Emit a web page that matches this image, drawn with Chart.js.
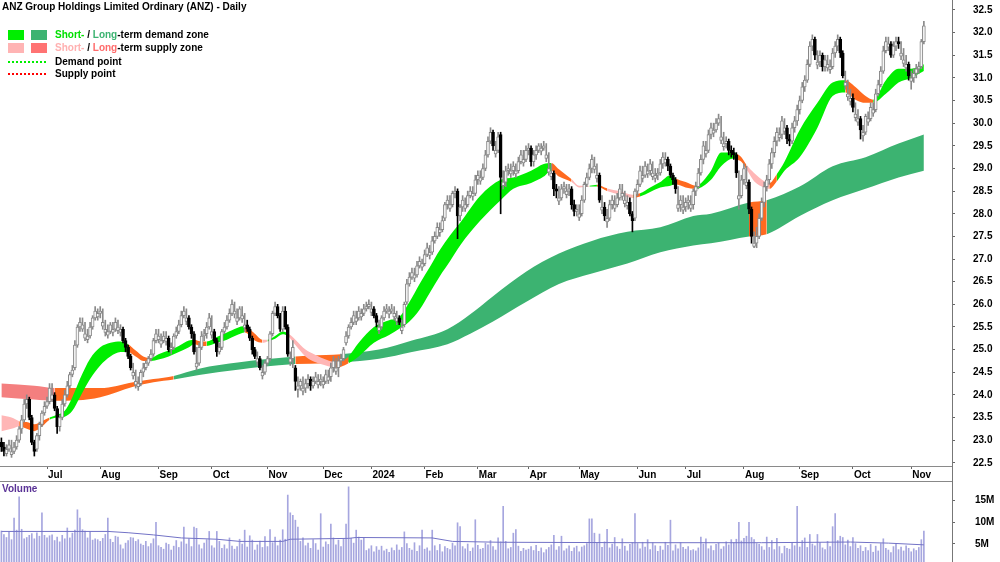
<!DOCTYPE html>
<html>
<head>
<meta charset="utf-8">
<script src="https://cdn.jsdelivr.net/npm/chart.js@4.4.1/dist/chart.umd.min.js"></script>
<style>
  html, body { margin: 0; padding: 0; background: #fff; }
  body { width: 1000px; height: 562px; position: relative; overflow: hidden; font-family: "Liberation Sans", Arial, sans-serif; }
  #price { position: absolute; left: 0; top: 0; }
  #vol { position: absolute; left: 0; top: 481px; }
  .hline { position: absolute; left: 0; top: 481px; width: 952px; height: 1px; background: #888; }
  .vline { position: absolute; left: 952px; top: 0; width: 1px; height: 562px; background: #777; }
  .title { position: absolute; left: 2px; top: 1px; font-size: 10px; font-weight: bold; color: #000; white-space: nowrap; }
  .sw { position: absolute; width: 16px; height: 10px; }
  .lt { position: absolute; left: 55px; font-size: 10px; font-weight: bold; color: #000; white-space: nowrap; line-height: 12px; }
  .dots { position: absolute; left: 8px; width: 38px; height: 0; }
  .vlabel { position: absolute; left: 2px; top: 483px; font-size: 10px; font-weight: bold; color: #5a3296; }
</style>
</head>
<body>
<canvas id="price" width="1000" height="481"></canvas>
<canvas id="vol" width="1000" height="81"></canvas>
<div class="hline"></div>
<div class="vline"></div>

<div class="title">ANZ Group Holdings Limited Ordinary (ANZ) - Daily</div>
<div class="sw" style="left:8px;top:30px;background:#00ee00"></div>
<div class="sw" style="left:31px;top:30px;background:#3cb371"></div>
<div class="lt" style="top:29px"><span style="color:#00e000">Short-</span> / <span style="color:#3cb371">Long</span>-term demand zone</div>
<div class="sw" style="left:8px;top:43px;background:#ffb4b4"></div>
<div class="sw" style="left:31px;top:43px;background:#ff7373"></div>
<div class="lt" style="top:42px"><span style="color:#ffb0b0">Short-</span> / <span style="color:#ff6b6b">Long</span>-term supply zone</div>
<div class="dots" style="top:61px;border-top:2px dotted #00ee00"></div>
<div class="lt" style="top:56px">Demand point</div>
<div class="dots" style="top:73px;border-top:2px dotted #ff0000"></div>
<div class="lt" style="top:68px">Supply point</div>
<div class="vlabel">Volume</div>

<script>
// daily candles, Jun 2023 - Nov 2024 (index = trading day)
const opens = [
  22.95,22.85,22.70,22.80,22.68,22.75,22.85,23.00,23.25,23.45,
  23.80,23.90,23.50,22.95,22.80,23.10,23.35,23.60,23.75,23.85,
  23.90,24.00,23.70,23.30,23.50,23.80,24.00,24.20,24.45,24.60,
  25.10,25.50,25.45,25.25,25.22,25.30,25.50,25.70,25.72,25.80,
  25.52,25.38,25.32,25.40,25.38,25.45,25.42,25.38,25.45,25.20,
  25.05,24.85,24.42,24.22,24.18,24.25,24.50,24.60,24.70,24.80,
  24.90,25.20,25.22,25.12,25.20,25.18,25.25,25.00,25.05,25.30,
  25.40,25.55,25.75,25.62,25.70,25.50,25.35,24.62,24.70,25.05,
  25.30,25.35,25.50,25.32,25.40,25.20,24.95,25.05,25.40,25.50,
  25.65,25.80,25.78,25.62,25.70,25.68,25.48,25.55,25.45,25.25,
  25.00,24.72,24.80,24.42,24.50,24.70,24.80,25.35,25.80,25.95,
  25.75,25.45,25.85,25.50,24.72,24.80,24.60,24.12,24.20,24.08,
  24.15,24.25,24.35,24.20,24.30,24.22,24.30,24.22,24.30,24.32,
  24.40,24.60,24.52,24.60,24.75,24.80,25.15,25.30,25.50,25.60,
  25.62,25.70,25.72,25.80,25.90,25.95,25.82,25.90,25.75,25.42,
  25.50,25.70,25.85,25.78,25.85,25.72,25.62,25.70,25.42,25.55,
  26.05,26.45,26.60,26.58,26.65,26.85,26.82,26.90,27.10,27.08,
  27.15,27.40,27.50,27.58,27.65,27.90,28.20,28.12,28.20,28.45,
  28.50,27.95,28.15,28.12,28.20,28.40,28.38,28.45,28.75,28.72,
  28.80,29.00,29.30,29.60,29.80,29.32,29.40,29.75,28.62,28.70,
  28.95,28.88,28.95,28.88,28.95,29.15,29.12,29.20,29.40,29.45,
  29.15,29.30,29.40,29.38,29.45,29.22,28.92,28.82,28.90,28.55,
  28.28,28.35,28.55,28.42,28.50,28.55,28.20,28.05,27.92,28.00,
  28.30,28.65,28.80,29.00,28.98,28.78,28.85,28.08,28.15,27.82,
  27.90,28.20,28.12,28.20,28.35,28.38,28.22,28.18,28.25,28.00,
  27.90,28.50,28.65,28.78,28.85,28.88,28.95,28.82,28.78,28.85,
  28.90,29.10,29.12,29.20,29.05,28.85,28.75,28.12,28.20,28.08,
  28.15,28.25,28.12,28.20,28.50,28.60,28.90,29.20,29.32,29.40,
  29.75,29.78,29.85,30.00,29.62,29.48,29.55,29.60,29.40,29.35,
  29.30,28.32,28.40,28.75,28.62,28.70,28.10,27.28,27.35,27.50,
  27.90,28.25,28.60,28.75,29.10,29.35,29.60,29.68,29.75,29.82,
  29.90,29.65,29.60,29.90,30.05,30.30,30.50,30.80,30.95,31.30,
  31.70,31.85,31.28,31.35,31.50,31.25,31.22,31.18,31.25,31.55,
  31.70,31.85,31.55,30.82,30.58,30.48,30.55,30.12,30.02,30.10,
  29.72,29.80,30.02,30.10,30.22,30.30,30.65,30.85,31.15,31.60,
  31.68,31.75,31.50,31.70,31.80,31.48,31.32,31.22,31.30,30.92,
  31.00,31.10,31.20,31.25,31.80
];
const highs = [
  23.05,22.95,22.90,23.00,23.00,22.95,23.10,23.30,23.55,23.90,
  24.00,23.95,23.55,23.00,23.15,23.40,23.65,23.85,23.95,24.25,
  24.25,24.05,23.75,23.55,23.90,24.10,24.30,24.50,24.65,25.20,
  25.55,25.70,25.70,25.60,25.45,25.60,25.75,25.95,25.90,25.95,
  25.90,25.65,25.55,25.60,25.60,25.70,25.65,25.55,25.50,25.25,
  25.10,24.90,24.70,24.55,24.40,24.55,24.70,24.75,24.85,25.00,
  25.25,25.45,25.45,25.35,25.40,25.40,25.30,25.15,25.35,25.50,
  25.65,25.85,25.95,25.90,25.75,25.55,25.40,25.05,25.15,25.40,
  25.45,25.60,25.80,25.75,25.45,25.25,25.15,25.45,25.60,25.75,
  25.90,26.10,26.05,25.90,25.95,25.95,25.80,25.65,25.50,25.30,
  25.05,24.95,24.85,24.65,24.75,24.85,25.40,25.85,26.05,26.00,
  25.80,25.95,25.95,25.55,24.95,25.20,24.65,24.40,24.35,24.40,
  24.35,24.45,24.40,24.40,24.50,24.45,24.45,24.40,24.55,24.55,
  24.70,24.85,24.80,24.85,24.90,25.05,25.40,25.55,25.70,25.85,
  25.85,25.95,25.90,26.00,26.05,26.10,26.05,25.95,25.80,25.65,
  25.75,25.95,26.00,25.95,26.00,25.95,25.85,25.75,25.65,26.05,
  26.55,26.70,26.80,26.80,26.95,27.05,27.00,27.20,27.35,27.30,
  27.50,27.60,27.80,27.80,27.95,28.25,28.40,28.40,28.50,28.60,
  28.55,28.20,28.40,28.35,28.50,28.60,28.60,28.85,28.95,28.95,
  29.10,29.40,29.70,29.90,29.85,29.60,29.80,29.80,28.95,29.05,
  29.10,29.10,29.15,29.10,29.25,29.40,29.40,29.50,29.55,29.50,
  29.40,29.50,29.55,29.55,29.60,29.55,29.35,29.10,28.95,28.65,
  28.60,28.65,28.70,28.65,28.65,28.60,28.30,28.20,28.20,28.40,
  28.70,28.90,29.10,29.30,29.25,29.10,28.90,28.40,28.25,28.10,
  28.30,28.40,28.40,28.45,28.65,28.65,28.50,28.40,28.35,28.05,
  28.55,28.75,29.05,29.05,29.15,29.10,29.20,29.15,29.00,29.00,
  29.20,29.35,29.35,29.25,29.10,28.90,28.80,28.60,28.40,28.40,
  28.35,28.40,28.40,28.55,28.70,29.00,29.30,29.60,29.60,29.85,
  30.00,30.00,30.10,30.20,30.15,29.80,29.70,29.65,29.50,29.45,
  29.35,28.95,28.85,29.10,29.05,28.75,28.15,27.60,27.70,28.00,
  28.35,28.70,28.85,29.20,29.45,29.70,29.90,29.90,30.15,30.10,
  29.95,29.75,30.00,30.15,30.40,30.60,30.90,31.05,31.40,31.80,
  31.95,31.90,31.60,31.60,31.55,31.50,31.50,31.40,31.65,31.80,
  31.95,31.90,31.60,31.15,30.95,30.75,30.65,30.45,30.30,30.15,
  29.95,30.20,30.25,30.45,30.45,30.75,30.95,31.25,31.70,31.90,
  31.90,31.80,31.80,31.90,31.90,31.80,31.65,31.50,31.35,31.15,
  31.20,31.30,31.35,31.85,32.25
];
const lows = [
  22.75,22.65,22.65,22.75,22.62,22.70,22.80,22.95,23.15,23.40,
  23.70,23.45,22.90,22.65,22.75,23.00,23.30,23.55,23.70,23.80,
  23.85,23.65,23.15,23.20,23.45,23.75,23.95,24.15,24.40,24.55,
  25.05,25.40,25.40,25.20,25.15,25.25,25.45,25.65,25.65,25.70,
  25.45,25.30,25.25,25.35,25.30,25.40,25.35,25.30,25.15,24.95,
  24.80,24.55,24.35,24.15,24.10,24.20,24.40,24.55,24.65,24.75,
  24.85,25.15,25.15,25.05,25.15,25.10,24.95,24.90,25.00,25.25,
  25.35,25.50,25.70,25.55,25.45,25.25,24.90,24.55,24.65,25.00,
  25.20,25.25,25.45,25.25,25.15,24.85,24.90,25.00,25.35,25.45,
  25.60,25.75,25.70,25.55,25.65,25.60,25.40,25.40,25.20,24.90,
  24.80,24.65,24.55,24.35,24.45,24.65,24.75,25.30,25.75,25.70,
  25.40,25.40,25.45,24.85,24.65,24.60,24.10,23.95,24.10,24.00,
  24.05,24.15,24.10,24.15,24.25,24.15,24.20,24.15,24.25,24.25,
  24.30,24.50,24.45,24.40,24.65,24.75,25.10,25.25,25.45,25.55,
  25.55,25.65,25.65,25.75,25.85,25.90,25.75,25.70,25.50,25.35,
  25.45,25.65,25.80,25.70,25.80,25.65,25.55,25.55,25.35,25.50,
  26.00,26.40,26.55,26.50,26.60,26.80,26.75,26.85,27.05,27.00,
  27.10,27.35,27.45,27.50,27.60,27.85,28.10,28.05,28.15,28.35,
  27.45,27.85,28.05,28.05,28.15,28.35,28.30,28.40,28.65,28.65,
  28.75,28.95,29.25,29.55,29.40,29.25,29.35,28.00,28.55,28.60,
  28.85,28.80,28.85,28.80,28.90,29.10,29.05,29.15,29.30,29.05,
  29.05,29.20,29.35,29.30,29.40,29.15,28.85,28.75,28.40,28.35,
  28.20,28.30,28.45,28.35,28.40,28.10,27.95,27.95,27.85,27.95,
  28.25,28.60,28.75,28.90,28.90,28.70,28.25,28.00,27.85,27.70,
  27.85,28.10,28.05,28.15,28.30,28.30,28.15,28.10,27.95,27.60,
  27.85,28.40,28.60,28.70,28.80,28.80,28.85,28.75,28.70,28.75,
  28.85,29.00,29.05,28.95,28.80,28.65,28.45,28.05,28.05,28.00,
  28.05,28.10,28.05,28.10,28.40,28.55,28.85,29.10,29.25,29.35,
  29.65,29.70,29.80,29.95,29.55,29.40,29.45,29.30,29.25,29.20,
  28.80,28.10,28.35,28.65,28.55,28.00,27.35,27.25,27.25,27.45,
  27.85,28.15,28.50,28.65,29.00,29.25,29.50,29.60,29.65,29.75,
  29.55,29.50,29.55,29.80,29.95,30.20,30.45,30.70,30.90,31.25,
  31.60,31.40,31.20,31.25,31.15,31.15,31.15,31.10,31.20,31.45,
  31.60,31.45,31.00,30.75,30.50,30.40,30.25,30.05,29.95,29.65,
  29.60,29.75,29.95,30.05,30.15,30.25,30.60,30.80,31.10,31.55,
  31.60,31.45,31.45,31.60,31.65,31.40,31.25,31.15,30.95,30.75,
  30.90,31.00,31.10,31.20,31.75
];
const closes = [
  22.85,22.75,22.80,22.90,22.75,22.85,23.00,23.25,23.45,23.80,
  23.90,23.50,22.95,22.75,23.10,23.35,23.60,23.75,23.85,24.15,
  24.00,23.70,23.30,23.50,23.80,24.00,24.20,24.45,24.55,25.10,
  25.50,25.60,25.55,25.35,25.30,25.50,25.70,25.85,25.80,25.85,
  25.60,25.45,25.40,25.55,25.45,25.60,25.50,25.45,25.20,25.05,
  24.85,24.60,24.50,24.30,24.25,24.50,24.60,24.70,24.80,24.90,
  25.20,25.35,25.30,25.20,25.30,25.25,25.00,25.05,25.30,25.40,
  25.55,25.75,25.85,25.70,25.50,25.35,24.95,24.70,25.05,25.30,
  25.35,25.50,25.70,25.40,25.20,24.95,25.05,25.40,25.50,25.65,
  25.80,26.00,25.85,25.70,25.90,25.75,25.55,25.45,25.25,25.00,
  24.85,24.80,24.60,24.50,24.70,24.80,25.35,25.80,25.95,25.75,
  25.45,25.85,25.50,24.90,24.80,25.05,24.30,24.20,24.30,24.15,
  24.25,24.35,24.20,24.30,24.40,24.30,24.35,24.30,24.45,24.40,
  24.60,24.75,24.60,24.75,24.80,25.00,25.30,25.50,25.60,25.75,
  25.70,25.85,25.80,25.90,25.95,26.00,25.90,25.75,25.60,25.50,
  25.70,25.85,25.90,25.85,25.90,25.80,25.70,25.60,25.50,26.00,
  26.45,26.60,26.70,26.65,26.85,26.95,26.90,27.10,27.25,27.15,
  27.40,27.50,27.70,27.65,27.85,28.20,28.30,28.20,28.45,28.50,
  27.95,28.15,28.30,28.20,28.40,28.50,28.45,28.75,28.85,28.80,
  29.00,29.30,29.60,29.80,29.50,29.40,29.70,28.80,28.70,28.95,
  29.00,28.95,29.05,28.95,29.15,29.30,29.20,29.40,29.45,29.15,
  29.30,29.40,29.50,29.45,29.50,29.30,29.00,28.90,28.55,28.50,
  28.35,28.55,28.60,28.50,28.55,28.20,28.05,28.10,28.00,28.30,
  28.65,28.80,29.00,29.20,29.05,28.85,28.30,28.15,27.95,27.90,
  28.20,28.30,28.20,28.35,28.55,28.45,28.30,28.25,28.00,27.85,
  28.50,28.65,28.95,28.85,29.05,28.95,29.10,28.90,28.85,28.90,
  29.10,29.25,29.20,29.05,28.85,28.75,28.55,28.20,28.30,28.15,
  28.25,28.30,28.20,28.50,28.60,28.90,29.20,29.50,29.40,29.75,
  29.90,29.85,30.00,30.10,29.70,29.55,29.60,29.40,29.35,29.30,
  28.90,28.40,28.75,29.00,28.70,28.10,27.50,27.35,27.50,27.90,
  28.25,28.60,28.75,29.10,29.35,29.60,29.80,29.75,30.05,29.90,
  29.65,29.60,29.90,30.05,30.30,30.50,30.80,30.95,31.30,31.70,
  31.85,31.50,31.35,31.50,31.25,31.40,31.30,31.25,31.55,31.70,
  31.85,31.55,31.05,30.90,30.65,30.55,30.35,30.20,30.10,29.85,
  29.80,30.15,30.10,30.35,30.30,30.65,30.85,31.15,31.60,31.80,
  31.75,31.50,31.70,31.80,31.75,31.55,31.40,31.30,31.05,31.00,
  31.10,31.20,31.25,31.80,32.15
];
// volume in millions of shares
const volumes = [
  8.0,7.2,6.5,7.8,6.0,11.0,8.2,15.9,8.4,6.2,
  6.5,7.0,7.4,6.2,7.6,6.8,12.2,7.0,6.4,6.9,
  7.1,5.8,6.6,5.5,7.0,6.2,8.7,6.4,7.5,8.2,
  12.9,11.0,8.3,8.0,6.4,7.8,5.9,6.2,6.0,5.6,
  6.3,7.2,11.0,6.1,5.4,6.8,6.6,4.8,3.9,5.2,
  5.8,6.5,6.4,5.6,6.0,5.0,4.7,5.6,4.4,5.1,
  6.2,10.0,4.6,4.2,3.8,5.2,4.9,3.6,4.5,5.8,
  4.2,5.5,8.9,5.0,6.2,4.4,8.9,8.6,4.8,3.9,
  5.2,6.0,7.9,4.6,4.1,7.9,5.6,4.0,4.8,3.9,
  6.4,4.5,3.8,4.4,6.1,5.0,8.2,4.3,6.9,5.9,
  3.6,4.8,5.7,4.2,6.7,4.4,8.3,5.3,6.6,4.6,
  5.9,8.3,6.1,16.3,12.2,11.6,10.5,8.9,5.6,6.4,
  4.6,5.2,4.0,6.0,5.1,3.6,12.0,4.3,5.5,4.9,
  9.6,6.4,4.8,5.9,4.4,6.1,9.6,18.2,6.3,5.2,
  8.2,6.6,5.9,6.5,3.5,3.9,4.6,3.2,4.4,3.6,
  4.5,3.4,3.8,3.1,4.1,3.5,4.8,3.6,4.2,7.8,
  5.1,4.0,3.6,5.3,3.3,4.6,8.2,3.8,4.1,3.4,
  8.2,4.6,3.5,4.9,3.2,4.4,4.0,3.7,5.2,4.6,
  9.9,9.0,4.4,3.9,5.0,3.3,4.1,10.6,4.7,3.8,
  4.0,5.2,4.8,5.8,4.4,3.6,6.4,5.5,13.7,5.6,
  3.9,4.2,7.5,8.3,4.5,3.3,4.0,3.6,3.8,4.4,
  3.5,4.7,3.3,4.1,3.0,3.7,4.2,4.8,7.0,3.6,
  4.4,6.8,3.4,3.9,4.6,3.3,4.1,4.5,3.2,4.3,
  4.6,5.1,10.8,10.8,7.5,5.2,7.3,4.2,5.5,8.4,
  4.1,5.0,6.5,4.4,3.8,6.2,4.5,3.4,4.9,5.3,
  12.0,5.1,3.9,5.4,4.3,6.0,3.7,5.3,4.6,3.3,
  4.5,3.6,5.4,4.7,10.5,3.4,4.8,3.9,5.3,4.2,
  3.8,4.4,3.5,3.7,3.4,4.1,6.6,5.0,6.2,3.9,
  4.6,3.5,4.9,5.2,3.8,4.4,5.5,4.8,6.0,5.3,
  6.1,10.0,5.7,6.3,6.8,10.0,6.5,6.0,5.1,4.9,
  4.4,3.6,6.6,4.2,5.8,3.7,6.3,4.4,2.8,4.5,
  4.0,3.8,5.4,4.6,13.7,4.3,5.8,6.4,4.2,7.2,
  5.0,4.6,7.2,5.3,4.1,3.7,5.6,4.4,9.0,12.0,
  5.8,6.8,6.5,4.8,5.9,4.4,6.5,5.1,4.0,4.6,
  3.3,4.2,3.5,4.9,3.1,4.5,3.4,5.1,6.2,4.0,
  3.6,3.0,4.4,4.9,3.7,4.3,3.4,4.6,4.0,3.2,
  3.9,3.5,4.2,6.0,8.0
];
// volume average line, sampled
const volAvgIdx = [0, 42, 50, 60, 71, 85, 94, 111, 114, 137, 140, 170, 178, 197, 250, 300, 335, 350, 364];
const volAvg = [7.9, 7.9, 7.6, 7.1, 6.4, 6.1, 5.6, 5.6, 6.1, 6.3, 6.5, 6.4, 5.6, 5.4, 5.3, 5.3, 5.45, 5.2, 4.8];

// short-term zone (upper / lower edge), zone code per segment
const stIdx = [0,4,7,10,13,16,19,22,25,28, 31,35,39,43,47,50,53,56,59,62,
  66,70,74,76,79,81,85,89,93,96, 100,103,105,108,111,113,116,120,124,128,
  132,134,137,141,147,153,157,161,165,169, 173,177,181,189,197,202,209,214,217,220,
  225,228,232,235,239,244,249,252,256,260, 264,266,270,274,280,284,289,290,292,294,
  297,301,303,306,309,315,322,328,333,337, 341,344,349,354,359,364];
const stUpper = [23.55,23.50,23.42,23.40,23.35,23.42,23.50,23.56,23.65,23.95,
  24.35,24.80,25.05,25.15,25.18,25.12,24.98,24.85,24.82,24.90,
  24.98,25.08,25.20,25.22,25.18,25.18,25.28,25.38,25.48,25.52,
  25.35,25.22,25.22,25.30,25.40,25.36,25.22,25.00,24.88,24.78,
  24.72,24.74,24.85,25.15,25.50,25.65,25.72,26.05,26.45,26.82,
  27.20,27.52,27.80,28.40,28.75,28.80,28.95,29.10,29.12,28.98,
  28.76,28.62,28.62,28.64,28.56,28.50,28.42,28.45,28.58,28.70,
  28.85,28.78,28.70,28.62,28.95,29.35,29.35,29.33,29.25,29.08,
  28.90,28.72,28.68,28.88,29.15,29.85,30.45,30.90,30.95,30.80,
  30.60,30.52,30.95,31.20,31.20,31.30];
const stLower = [23.20,23.25,23.30,23.25,23.20,23.30,23.45,23.50,23.52,23.65,
  23.95,24.35,24.65,24.85,24.95,24.95,24.85,24.75,24.75,24.78,
  24.85,24.95,25.05,25.12,25.08,25.08,25.15,25.22,25.32,25.38,
  25.20,25.15,25.18,25.24,25.34,25.30,25.10,24.85,24.72,24.65,
  24.60,24.62,24.70,24.85,25.15,25.32,25.46,25.62,25.88,26.25,
  26.62,26.95,27.30,27.85,28.30,28.55,28.68,28.82,28.95,28.82,
  28.70,28.58,28.60,28.60,28.50,28.42,28.35,28.38,28.48,28.58,
  28.62,28.65,28.58,28.55,28.75,29.05,29.22,29.20,29.15,28.98,
  28.72,28.58,28.55,28.72,28.95,29.25,29.90,30.60,30.68,30.52,
  30.45,30.45,30.65,30.90,31.00,31.15];
const stZone = ("ppoooogggg" + "gggggooogg" + "gggooggggo" + "opgggppppp" + "oogggggggg" +
  "ggggggggoo" + "ppgoppoggg" + "googgggoop" + "ppogggggoo" + "oggggg").split("");

// long-term zone
const ltIdx = [0,13,21,30,39,52,60,68,78,94, 103,116,128,134,149,162,176,185,194,207,
  220,233,247,260,273,280,295,302,315,328, 341,354,364];
const ltUpper = [24.25,24.20,24.15,24.15,24.15,24.28,24.35,24.42,24.58,24.72,
  24.78,24.85,24.88,24.90,25.00,25.20,25.45,25.78,26.18,26.72,
  27.12,27.40,27.60,27.70,27.95,28.00,28.25,28.30,28.60,29.05,
  29.25,29.55,29.75];
const ltLower = [23.95,23.90,23.87,23.88,23.95,24.18,24.28,24.34,24.44,24.56,
  24.62,24.68,24.70,24.72,24.80,24.95,25.12,25.35,25.62,26.05,
  26.45,26.68,26.90,27.15,27.30,27.35,27.50,27.55,27.95,28.30,
  28.55,28.80,28.95];
const ltZone = ("rroooooddd" + "dooddddddd" + "ddddddoddd" + "ddd").split("");

const priceTicks = [22.5,23.0,23.5,24.0,24.5,25.0,25.5,26.0,26.5,27.0,27.5,28.0,28.5,29.0,29.5,30.0,30.5,31.0,31.5,32.0,32.5];
const monthTickIdx = [18, 39, 62, 83, 105, 127, 146, 167, 188, 208, 228, 251, 270, 293, 315, 336, 359];
const monthLabels = ["Jul","Aug","Sep","Oct","Nov","Dec","2024","Feb","Mar","Apr","May","Jun","Jul","Aug","Sep","Oct","Nov"];
const volTicks = [5, 10, 15];

[opens, highs, lows, volumes].forEach(a => {
  if (a.length !== closes.length) throw new Error("length mismatch " + a.length + " vs " + closes.length);
});
if (stUpper.length !== stIdx.length || stLower.length !== stIdx.length || stZone.length !== stIdx.length) throw new Error("st length");
if (ltUpper.length !== ltIdx.length || ltLower.length !== ltIdx.length || ltZone.length !== ltIdx.length) throw new Error("lt length");

const zoneColor = { g: "#00ee00", o: "#ff6a1f", p: "#ffb6b6", d: "#3cb371", r: "#f47f7f" };
Chart.defaults.font.family = "'Liberation Sans', Arial, sans-serif";

const xMin = -0.55, xMax = 375.1;
const isUp = i => closes[i] >= opens[i];

function bandLine(idx, vals, extra) {
  return Object.assign({
    type: "line",
    data: idx.map((x, k) => ({ x: x, y: vals[k] })),
    borderColor: "rgba(0,0,0,0)",
    borderWidth: 0,
    pointRadius: 0,
    cubicInterpolationMode: "monotone",
    fill: false
  }, extra);
}

new Chart(document.getElementById("price"), {
  type: "bar",
  data: {
    datasets: [
      {
        // candle bodies
        data: closes.map((c, i) => ({ x: i, y: [opens[i], c] })),
        backgroundColor: ctx => isUp(ctx.dataIndex) ? "#f6f6f6" : "#000000",
        borderColor: ctx => isUp(ctx.dataIndex) ? "#888888" : "#000000",
        borderWidth: 1,
        borderSkipped: false,
        barThickness: 3,
        minBarLength: 1,
        grouped: false,
        order: 0
      },
      {
        // wicks
        data: closes.map((c, i) => ({ x: i, y: [lows[i], highs[i]] })),
        backgroundColor: ctx => isUp(ctx.dataIndex) ? "#8a8a8a" : "#000000",
        barThickness: 1,
        grouped: false,
        order: 1
      },
      bandLine(stIdx, stLower, { order: 2 }),
      bandLine(stIdx, stUpper, {
        order: 3,
        fill: 2,
        backgroundColor: zoneColor.g,
        segment: { backgroundColor: ctx => zoneColor[stZone[ctx.p0DataIndex]] }
      }),
      bandLine(ltIdx, ltLower, { order: 4 }),
      bandLine(ltIdx, ltUpper, {
        order: 5,
        fill: 4,
        backgroundColor: zoneColor.d,
        segment: { backgroundColor: ctx => zoneColor[ltZone[ctx.p0DataIndex]] }
      })
    ]
  },
  options: {
    responsive: false,
    animation: false,
    events: [],
    layout: { padding: 0 },
    plugins: { legend: { display: false }, tooltip: { enabled: false } },
    scales: {
      x: {
        type: "linear",
        min: xMin,
        max: xMax,
        offset: false,
        afterBuildTicks: s => { s.ticks = monthTickIdx.map(v => ({ value: v })); },
        afterFit: s => { s.height = 15; s.paddingLeft = 0; s.paddingRight = 0; },
        grid: { offset: false, drawOnChartArea: false, drawTicks: true, tickLength: 3, color: "#666" },
        border: { display: true, color: "#8a8a8a" },
        ticks: {
          autoSkip: false,
          maxRotation: 0,
          minRotation: 0,
          align: "start",
          labelOffset: 1,
          padding: 0,
          color: "#000",
          font: { size: 10, weight: "bold" },
          callback: v => monthLabels[monthTickIdx.indexOf(v)] || ""
        }
      },
      y: {
        position: "right",
        min: 22.43,
        max: 32.72,
        afterBuildTicks: s => { s.ticks = priceTicks.map(v => ({ value: v })); },
        afterFit: s => { s.width = 48; s.paddingTop = 0; s.paddingBottom = 0; },
        grid: { drawOnChartArea: false, drawTicks: true, tickLength: 3, color: "#666" },
        border: { display: true, color: "#777" },
        ticks: {
          padding: 18,
          color: "#000",
          font: { size: 10, weight: "bold" },
          callback: v => Number(v).toFixed(1)
        }
      }
    }
  }
});

new Chart(document.getElementById("vol"), {
  type: "bar",
  data: {
    datasets: [
      {
        type: "line",
        data: volAvgIdx.map((x, k) => ({ x: x, y: volAvg[k] })),
        borderColor: "#7272c6",
        borderWidth: 1,
        pointRadius: 0,
        tension: 0,
        order: 0
      },
      {
        data: volumes.map((v, i) => ({ x: i, y: v })),
        backgroundColor: "#a6a6df",
        barThickness: 1,
        grouped: false,
        order: 1
      }
    ]
  },
  options: {
    responsive: false,
    animation: false,
    events: [],
    layout: { padding: 0 },
    plugins: { legend: { display: false }, tooltip: { enabled: false } },
    scales: {
      x: { type: "linear", min: xMin, max: xMax, offset: false, display: false },
      y: {
        position: "right",
        min: 0.84,
        max: 19.55,
        afterBuildTicks: s => { s.ticks = volTicks.map(v => ({ value: v })); },
        afterFit: s => { s.width = 48; s.paddingTop = 0; s.paddingBottom = 0; },
        grid: { drawOnChartArea: false, drawTicks: true, tickLength: 3, color: "#666" },
        border: { display: true, color: "#777" },
        ticks: {
          padding: 20,
          color: "#000",
          font: { size: 10, weight: "bold" },
          callback: v => v + "M"
        }
      }
    }
  }
});
</script>
</body>
</html>
